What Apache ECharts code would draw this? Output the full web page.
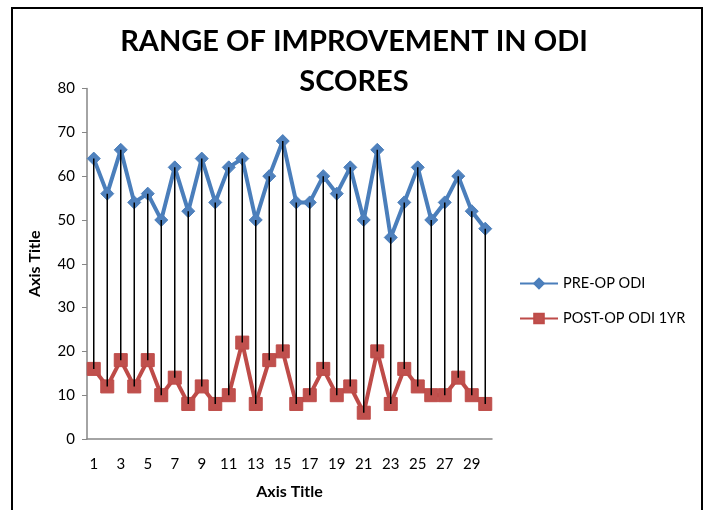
<!DOCTYPE html>
<html>
<head>
<meta charset="utf-8">
<script src="https://cdn.jsdelivr.net/npm/echarts@6/dist/echarts.min.js"></script>
<style>html,body{margin:0;padding:0;background:#fff}#c{width:708px;height:510px}</style>
</head>
<body>
<div id="c"></div>
<script>
const categories = Array.from({length: 30}, (_, i) => String(i + 1));
const preOp = [64,56,66,54,56,50,62,52,64,54,62,64,50,60,68,54,54,60,56,62,50,66,46,54,62,50,54,60,52,48];
const postOp = [16,12,18,12,18,10,14,8,12,8,10,22,8,18,20,8,10,16,10,12,6,20,8,16,12,10,10,14,10,8];
const seriesNames = ['PRE-OP ODI', 'POST-OP ODI 1YR'];
const titleText = 'RANGE OF IMPROVEMENT IN ODI\nSCORES';
const axisTitle = 'Axis Title';

const hiLo = categories.map((c, i) => [i, preOp[i], postOp[i]]);
const FONT = 'Lato';

const chart = echarts.init(document.getElementById('c'), null, {renderer: 'canvas'});
chart.setOption({
  backgroundColor: '#fff',
  animation: false,
  title: {
    text: titleText,
    left: 'center',
    top: 17,
    textStyle: {fontFamily: FONT, fontWeight: 'bold', fontSize: 29, lineHeight: 40, color: '#000'}
  },
  legend: {
    data: seriesNames,
    orient: 'vertical',
    left: 514,
    top: 271,
    itemWidth: 38,
    itemHeight: 12,
    itemGap: 20,
    textStyle: {fontFamily: FONT, fontSize: 14.5, color: '#000'}
  },
  grid: {left: 87, right: 216, top: 88.5, bottom: 71},
  xAxis: {
    type: 'category',
    data: categories,
    boundaryGap: true,
    name: axisTitle,
    nameLocation: 'middle',
    nameGap: 45,
    nameTextStyle: {fontFamily: FONT, fontWeight: 'bold', fontSize: 16, color: '#000'},
    axisLine: {lineStyle: {color: '#868686', width: 1.5}},
    axisTick: {show: false},
    axisLabel: {interval: 1, fontFamily: FONT, fontSize: 15, color: '#000', margin: 18}
  },
  yAxis: {
    type: 'value',
    min: 0, max: 80, interval: 10,
    name: axisTitle,
    nameLocation: 'middle',
    nameGap: 44,
    nameRotate: 90,
    nameTextStyle: {fontFamily: FONT, fontWeight: 'bold', fontSize: 16, color: '#000'},
    axisLine: {show: true, lineStyle: {color: '#868686', width: 1.5}},
    axisTick: {show: true, length: 5, lineStyle: {color: '#868686'}},
    splitLine: {show: false},
    axisLabel: {fontFamily: FONT, fontSize: 15, color: '#000', margin: 12}
  },
  series: [
    {
      name: seriesNames[0], type: 'line', data: preOp,
      symbol: 'diamond', symbolSize: 13, showAllSymbol: true,
      lineStyle: {color: '#4A7EBB', width: 4},
      itemStyle: {color: '#4F81BD', borderColor: '#4A7EBB', borderWidth: 1},
      z: 2
    },
    {
      name: seriesNames[1], type: 'line', data: postOp,
      symbol: 'rect', symbolSize: 13, showAllSymbol: true,
      lineStyle: {color: '#BE4B48', width: 4},
      itemStyle: {color: '#C0504D', borderColor: '#BE4B48', borderWidth: 1},
      z: 2
    },
    {
      name: 'hilo', type: 'custom', data: hiLo, z: 5, silent: true,
      encode: {x: 0, y: [1, 2]},
      renderItem: function (params, api) {
        const a = api.coord([api.value(0), api.value(1)]);
        const b = api.coord([api.value(0), api.value(2)]);
        return {type: 'line', shape: {x1: a[0], y1: a[1], x2: b[0], y2: b[1]},
                style: {stroke: '#000', lineWidth: 1.5}};
      }
    }
  ],
  graphic: [{
    type: 'rect', silent: true,
    shape: {x: 12, y: 8, width: 690, height: 520},
    style: {fill: 'none', stroke: '#000', lineWidth: 2}
  }]
});
</script>
</body>
</html>
